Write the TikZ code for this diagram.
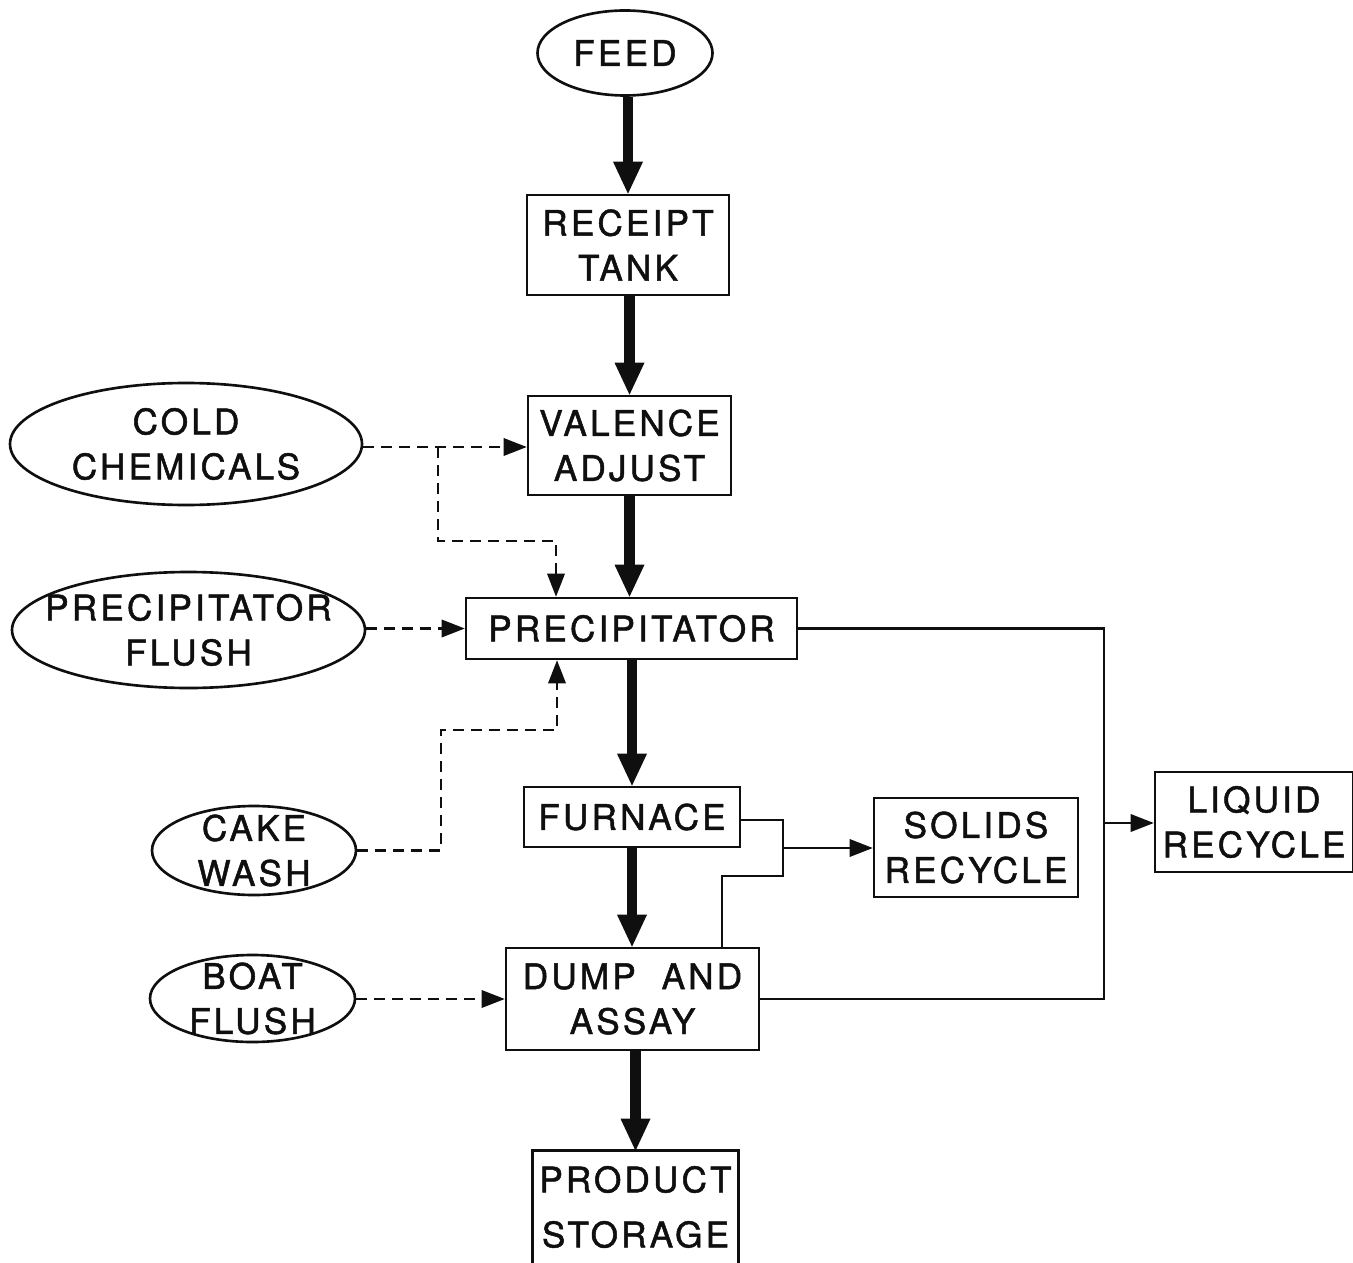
\documentclass[tikz,border=0pt]{standalone}
\usepackage{fontspec}
\newfontfamily\flowfont[LetterSpace=9, FakeBold=1.4]{TeX Gyre Heros}
\usetikzlibrary{arrows.meta,positioning,calc,shapes.geometric}
\definecolor{inkBlack}{RGB}{15, 15, 15}
\tikzset{
    unitbox/.style={draw=inkBlack, line width=1.5pt, inner sep=0pt, align=center, text=inkBlack,
        font=\flowfont\fontsize{20pt}{25.6pt}\selectfont},
    inputoval/.style={unitbox, ellipse, inner xsep=-0.6cm, inner ysep=-0.3cm},
    mainflow/.style={draw=inkBlack, line width=6pt, -{Triangle[length=0.64cm, width=0.6cm, line width=0pt]}},
    sideflow/.style={draw=inkBlack, line width=1.5pt, dash pattern=on 0.22cm off 0.14cm},
    sidearrow/.style={sideflow, -{Triangle[length=0.46cm, width=0.36cm, line width=0pt]}},
    recycleflow/.style={draw=inkBlack, line width=1.5pt},
    recyclearrow/.style={recycleflow, -{Triangle[length=0.46cm, width=0.36cm, line width=0pt]}}
}

\begin{document}
\begin{tikzpicture}
    \useasboundingbox (0,0) rectangle (27.06,-25.24);

    % main line
    \node[inputoval, minimum width=3.5cm, minimum height=1.7cm] (feed) at (12.50,-1.06) {FEED};
    \node[unitbox, minimum width=4.04cm, minimum height=2.0cm] (receipt) at (12.56,-4.90) {RECEIPT\\TANK};
    \node[unitbox, minimum width=4.06cm, minimum height=1.98cm] (valence) at (12.59,-8.91) {VALENCE\\ADJUST};
    \node[unitbox, minimum width=6.62cm, minimum height=1.22cm] (precip) at (12.63,-12.57) {PRECIPITATOR};
    \node[unitbox, minimum width=4.32cm, minimum height=1.2cm] (furnace) at (12.64,-16.34) {FURNACE};
    \node[unitbox, minimum width=5.06cm, minimum height=2.04cm] (dump) at (12.65,-19.98) {DUMP\ \ AND\\ASSAY};
    \node[unitbox, draw=none, minimum width=4.06cm, minimum height=2.2cm] (product) at (12.71,-24.14) {PRODUCT\\[5.7pt]STORAGE};
    \draw[recycleflow] (product.south west) -- (product.north west) -- (product.north east) -- (product.south east);

    % inputs
    \node[inputoval, minimum width=7.04cm, minimum height=2.44cm] (cold) at (3.72,-8.88) {COLD\\CHEMICALS};
    \node[inputoval, minimum width=7.06cm, minimum height=2.32cm] (pflush) at (3.77,-12.60) {PRECIPITATOR\\FLUSH};
    \node[inputoval, minimum width=4.08cm, minimum height=1.78cm] (cakewash) at (5.08,-17.01) {CAKE\\WASH};
    \node[inputoval, minimum width=4.1cm, minimum height=1.74cm] (boat) at (5.05,-19.97) {BOAT\\FLUSH};

    % recycle
    \node[unitbox, minimum width=4.08cm, minimum height=1.98cm] (solids) at (19.52,-16.95) {SOLIDS\\RECYCLE};
    \node[unitbox, minimum width=3.96cm, minimum height=2.0cm] (liquid) at (25.08,-16.44) {LIQUID\\RECYCLE};

    \draw[mainflow] (receipt.north |- feed.south) -- (receipt.north);
    \draw[mainflow] (receipt.south -| valence.north) -- (valence.north);
    \draw[mainflow] (valence.south) -- (valence.south |- precip.north);
    \draw[mainflow] (furnace.north |- precip.south) -- (furnace.north);
    \draw[mainflow] (furnace.south) -- (furnace.south |- dump.north);
    \draw[mainflow] (product.north |- dump.south) -- (product.north);

    % dashed feeds
    \coordinate (coldsplit) at (8.76,-8.94);
    \coordinate (coldturn) at (11.12,-10.82);
    \draw[sidearrow] (cold.east |- coldsplit) -- (coldsplit -| valence.west);
    \draw[sidearrow] (coldsplit) |- (coldturn) -- (coldturn |- precip.north);
    \draw[sidearrow] (pflush.east |- precip.west) -- (precip.west);
    \coordinate (cakeup) at (8.82,-14.60);
    \coordinate (caketurn) at (11.14,-14.60);
    \draw[sidearrow] (cakewash.east) -| (cakeup) -- (caketurn) -- (caketurn |- precip.south);
    \draw[sidearrow] (boat.east |- dump.west) -- (dump.west);

    % solids and liquid returns
    \coordinate (solidsplit) at (15.66,-16.96);
    \coordinate (dumpturn) at (14.44,-17.52);
    \draw[recycleflow] (furnace.east |- 0,-16.40) -| (solidsplit) |- (dumpturn) -- (dumpturn |- dump.north);
    \draw[recyclearrow] (solidsplit) -- (solidsplit -| solids.west);
    \coordinate (liquidsplit) at (22.08,-16.46);
    \draw[recycleflow] (precip.east) -| (liquidsplit) |- (dump.east);
    \draw[recyclearrow] (liquidsplit) -- (liquidsplit -| liquid.west);
\end{tikzpicture}
\end{document}
